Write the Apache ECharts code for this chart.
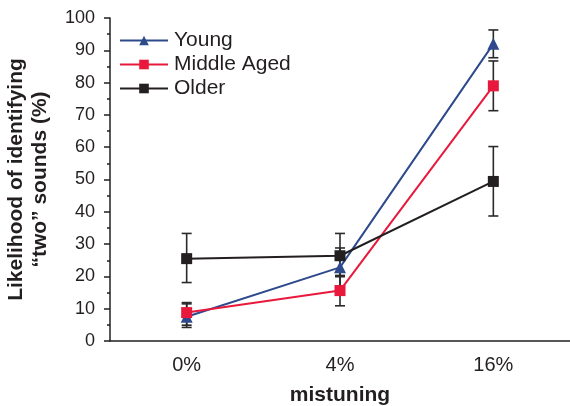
<!DOCTYPE html>
<html><head><meta charset="utf-8">
<script src="https://cdn.jsdelivr.net/npm/echarts@6/dist/echarts.min.js"></script>
<style>html,body{margin:0;padding:0;background:#fff}#c{width:570px;height:406px}</style>
</head><body><div id="c"></div>
<script>
const categories = ['0%', '4%', '16%'];
const seriesNames = ['Young', 'Middle Aged', 'Older'];
const young = [7.5, 22.8, 92];
const middle = [8.8, 15.6, 79];
const older = [25.5, 26.4, 49.4];
const youngLow = [4.2, 17, 87.7];
const youngHigh = [11.5, 28.8, 96.3];
const middleLow = [4.9, 10.9, 71.3];
const middleHigh = [11.9, 20.3, 86.7];
const olderLow = [18.1, 19.9, 38.7];
const olderHigh = [33.3, 33.3, 60.2];
const yTicks = [0, 10, 20, 30, 40, 50, 60, 70, 80, 90, 100];

const colors = ['#2e4a8c', '#e8193c', '#231f20'];
const font = 'Liberation Sans, Arial, sans-serif';

function errData(lo, hi) { return lo.map((v, i) => [i, v, hi[i]]); }
function errSeries(lo, hi) {
  return {
    type: 'custom', silent: true, z: 1,
    data: errData(lo, hi),
    renderItem: function (params, api) {
      const x = api.value(0);
      const p1 = api.coord([x, api.value(1)]);
      const p2 = api.coord([x, api.value(2)]);
      const w = 5;
      const st = { stroke: '#2a2a2a', lineWidth: 1.6 };
      return { type: 'group', children: [
        { type: 'line', shape: { x1: p1[0], y1: p1[1], x2: p2[0], y2: p2[1] }, style: st },
        { type: 'line', shape: { x1: p1[0] - w, y1: p1[1], x2: p1[0] + w, y2: p1[1] }, style: st },
        { type: 'line', shape: { x1: p2[0] - w, y1: p2[1], x2: p2[0] + w, y2: p2[1] }, style: st }
      ]};
    }
  };
}
function lineSeries(name, data, color, symbol, size) {
  return { name: name, type: 'line', data: data, z: 3, symbol: symbol, symbolSize: size,
    itemStyle: { color: color }, lineStyle: { color: color, width: 2 } };
}

const chart = echarts.init(document.getElementById('c'), null, { renderer: 'canvas' });
chart.setOption({
  animation: false,
  grid: { left: 110, right: 0, top: 18, bottom: 65, containLabel: false, outerBoundsMode: 'none' },
  legend: {
    data: seriesNames, orient: 'vertical', left: 114, top: 25,
    itemWidth: 48, itemHeight: 12, itemGap: 3,
    textStyle: { fontFamily: font, fontSize: 21, color: '#231f20', padding: [0, 0, 0, 1] }
  },
  xAxis: {
    type: 'category', data: categories, boundaryGap: true,
    name: 'mistuning', nameLocation: 'middle', nameGap: 44,
    nameTextStyle: { fontFamily: font, fontSize: 21, fontWeight: 'bold', color: '#231f20' },
    axisLine: { lineStyle: { color: '#231f20', width: 1.5 } },
    axisTick: { alignWithLabel: true, length: 5, lineStyle: { color: '#231f20', width: 1.5 } },
    axisLabel: { fontFamily: font, fontSize: 20, color: '#231f20', margin: 14 }
  },
  yAxis: {
    type: 'value', min: yTicks[0], max: yTicks[yTicks.length - 1], interval: 10,
    name: 'Likelihood of identifying\n\u201ctwo\u201d sounds (%)', nameLocation: 'middle', nameGap: 58,
    nameTextStyle: { fontFamily: font, fontSize: 21, fontWeight: 'bold', color: '#231f20', lineHeight: 24 },
    axisLine: { show: true, lineStyle: { color: '#231f20', width: 1.5 } },
    axisTick: { show: true, length: 6, lineStyle: { color: '#231f20', width: 1.5 } },
    minorTick: { show: true, splitNumber: 2, length: 3, lineStyle: { color: '#231f20', width: 1.5 } },
    splitLine: { show: false },
    axisLabel: { fontFamily: font, fontSize: 18, color: '#231f20', margin: 15 }
  },
  series: [
    errSeries(youngLow, youngHigh),
    errSeries(middleLow, middleHigh),
    errSeries(olderLow, olderHigh),
    lineSeries(seriesNames[0], young, colors[0], 'triangle', 12),
    lineSeries(seriesNames[1], middle, colors[1], 'rect', 11),
    lineSeries(seriesNames[2], older, colors[2], 'rect', 11)
  ]
});
</script></body></html>
